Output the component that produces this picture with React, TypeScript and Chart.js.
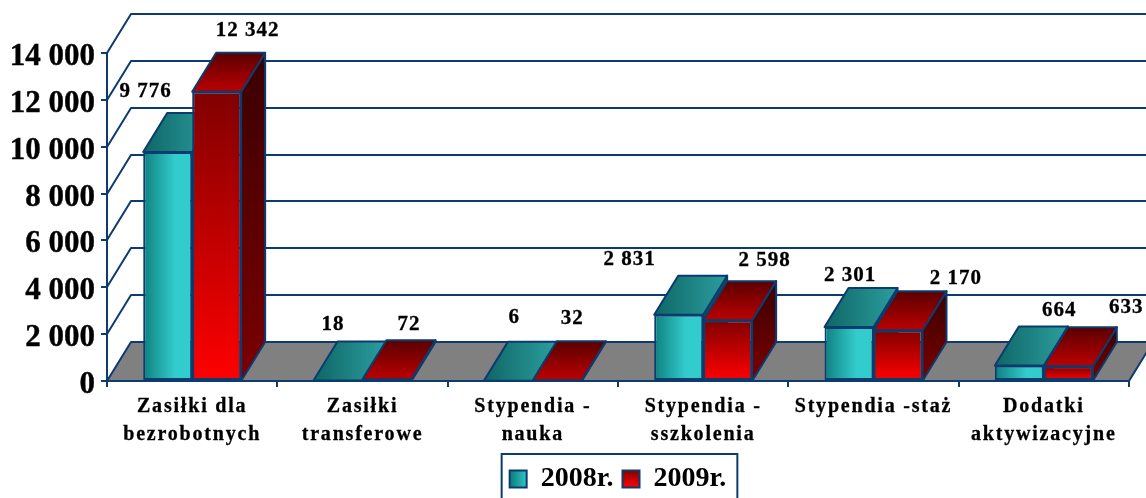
import React, { useEffect, useRef } from "react";
import { Chart, registerables } from "chart.js";

Chart.register(...registerables);

const categories: (string | string[])[] = [
  ["Zasiłki dla", "bezrobotnych"],
  ["Zasiłki", "transferowe"],
  ["Stypendia -", "nauka"],
  ["Stypendia -", "sszkolenia"],
  "Stypendia -staż",
  ["Dodatki", "aktywizacyjne"],
];
const values2008 = [9776, 18, 6, 2831, 2301, 664];
const values2009 = [12342, 72, 32, 2598, 2170, 633];
const yTicks = [0, 2000, 4000, 6000, 8000, 10000, 12000, 14000];
const seriesNames = ["2008r.", "2009r."];

// hand-placed data label offsets, relative to the top centre of each bar's front face
const labelOffsets2008 = [[-22, -60], [-5, -56], [6, -63], [-49, -55], [1, -52], [40, -55]];
const labelOffsets2009 = [[31, -61], [22, -55], [15, -62], [37, -60], [58, -52], [58, -59]];

const NAVY = "#0B3B6F";
const DEPTH_X = 24;
const DEPTH_Y = -39;
const SERIF = "'Liberation Serif', 'Times New Roman', serif";

const fmt = (v: number) => String(v).replace(/\B(?=(\d{3})+$)/g, " ");

function linear(ctx: CanvasRenderingContext2D, x0: number, y0: number, x1: number, y1: number, stops: [number, string][]) {
  const g = ctx.createLinearGradient(x0, y0, x1, y1);
  stops.forEach(([o, c]) => g.addColorStop(o, c));
  return g;
}

function poly(ctx: CanvasRenderingContext2D, pts: number[][], fill: any) {
  ctx.beginPath();
  pts.forEach(([x, y], i) => (i ? ctx.lineTo(x, y) : ctx.moveTo(x, y)));
  ctx.closePath();
  ctx.fillStyle = fill;
  ctx.fill();
  ctx.stroke();
}

const scene3d = {
  id: "scene3d",
  beforeDraw(chart: any) {
    const { ctx, width, height, chartArea, scales } = chart;
    ctx.save();
    ctx.fillStyle = "#ffffff";
    ctx.fillRect(0, 0, width, height);
    ctx.restore();
    // the value labels sit a little below their ticks in the reference
    if (!scales.y.$shifted) {
      scales.y.getLabelItems(chartArea).forEach((it: any) => {
        it.options.translation = [it.options.translation[0], it.options.translation[1] + 4];
      });
      scales.y.$shifted = true;
    }
  },
  beforeDatasetsDraw(chart: any) {
    const { ctx, chartArea, scales } = chart;
    const { left, right } = chartArea;
    ctx.save();
    ctx.strokeStyle = NAVY;
    ctx.lineWidth = 2;
    ctx.lineJoin = "round";
    yTicks.forEach((v) => {
      if (v === 0) return;
      const y = Math.round(scales.y.getPixelForValue(v));
      ctx.beginPath();
      ctx.moveTo(left, y);
      ctx.lineTo(left + DEPTH_X, y + DEPTH_Y);
      ctx.lineTo(right + DEPTH_X, y + DEPTH_Y);
      ctx.stroke();
    });
    const y0 = scales.y.getPixelForValue(0);
    poly(ctx, [[left, y0], [left + DEPTH_X, y0 + DEPTH_Y], [right + DEPTH_X, y0 + DEPTH_Y], [right, y0]], "#808080");

    // the series are painted left to right, so that each one overlaps the last
    [0, 1].forEach((ds) => {
      const isTeal = ds === 0;
      chart.getDatasetMeta(ds).data.forEach((bar: any) => {
        const { x, y, width } = bar.getProps(["x", "y", "width"], true);
        const l = x - width / 2;
        const r = x + width / 2;
        const b = y0;
        const sideFill = isTeal
          ? "#0E5A5A"
          : linear(ctx, 0, y + DEPTH_Y, 0, b, [[0, "#3A0000"], [1, "#7C0000"]]);
        poly(ctx, [[r, y], [r + DEPTH_X, y + DEPTH_Y], [r + DEPTH_X, b + DEPTH_Y], [r, b]], sideFill);
        const topFill = isTeal
          ? linear(ctx, l, 0, r + DEPTH_X, 0, [[0, "#0F6666"], [1, "#2C9E9E"]])
          : linear(ctx, 0, y + DEPTH_Y, 0, y, [[0, "#5A0000"], [1, "#BC0000"]]);
        poly(ctx, [[l, y], [l + DEPTH_X, y + DEPTH_Y], [r + DEPTH_X, y + DEPTH_Y], [r, y]], topFill);
        const frontFill = isTeal
          ? linear(ctx, l, 0, r, 0, [[0, "#0E8080"], [0.65, "#33CCCC"], [1, "#33CCCC"]])
          : linear(ctx, 0, y, 0, b, [[0, "#800000"], [1, "#FF0000"]]);
        bar.options = { ...bar.options, backgroundColor: frontFill };
      });
    });
    ctx.restore();
  },
  afterDatasetsDraw(chart: any) {
    const { ctx } = chart;
    ctx.save();
    ctx.font = `bold 21px ${SERIF}`;
    (ctx as any).letterSpacing = "1px";
    ctx.fillStyle = "#000000";
    ctx.strokeStyle = "#000000";
    ctx.lineWidth = 0.3;
    ctx.textAlign = "center";
    ctx.textBaseline = "middle";
    [labelOffsets2008, labelOffsets2009].forEach((offsets, ds) => {
      const meta = chart.getDatasetMeta(ds);
      meta.data.forEach((bar: any, i: number) => {
        const { x, y } = bar.getProps(["x", "y"], true);
        const v = chart.data.datasets[ds].data[i];
        ctx.fillText(fmt(v), x + offsets[i][0], y + offsets[i][1]);
        ctx.strokeText(fmt(v), x + offsets[i][0], y + offsets[i][1]);
      });
    });
    ctx.restore();
    // spacing for the category labels, which are drawn after this hook
    (ctx as any).letterSpacing = "1.8px";
  },
  afterDraw(chart: any) {
    const { ctx, legend } = chart;
    (ctx as any).letterSpacing = "0px";
    const boxes = legend.legendHitBoxes;
    const first = boxes[0];
    const last = boxes[boxes.length - 1];
    ctx.save();
    ctx.strokeStyle = NAVY;
    ctx.lineWidth = 2;
    ctx.strokeRect(first.left - 8, legend.top - 2, last.left + last.width + 11 - (first.left - 8), 60);
    ctx.restore();
  },
};

export default function App() {
  const ref = useRef<HTMLCanvasElement>(null);
  useEffect(() => {
    const canvas = ref.current!;
    const ctx2d = canvas.getContext("2d")!;
    const chart = new Chart(canvas, {
      type: "bar",
      plugins: [scene3d],
      data: {
        labels: categories as any,
        datasets: [
          { label: seriesNames[0], data: values2008, backgroundColor: "#33CCCC", borderColor: NAVY, borderWidth: 2, borderSkipped: false },
          { label: seriesNames[1], data: values2009, backgroundColor: "#FF0000", borderColor: NAVY, borderWidth: 2, borderSkipped: false },
        ],
      } as any,
      options: {
        responsive: false,
        animation: false,
        events: [],
        layout: { padding: { top: 53, right: 17, left: 0, bottom: -5 } },
        datasets: { bar: { categoryPercentage: 0.575, barPercentage: 1 } },
        plugins: {
          tooltip: { enabled: false },
          title: { display: false },
          legend: {
            display: true,
            position: "bottom",
            fullSize: false,
            labels: {
              boxWidth: 17,
              boxHeight: 17,
              padding: 9,
              color: "#000000",
              font: { family: SERIF, size: 28, weight: "bold" },
              generateLabels: (c: any) =>
                c.data.datasets.map((d: any, i: number) => ({
                  text: d.label,
                  datasetIndex: i,
                  fillStyle:
                    i === 0
                      ? linear(ctx2d, 511, 0, 528, 0, [[0, "#0E8080"], [1, "#33CCCC"]])
                      : linear(ctx2d, 0, 470, 0, 487, [[0, "#800000"], [1, "#FF0000"]]),
                  strokeStyle: NAVY,
                  lineWidth: 2,
                  fontColor: "#000000",
                })),
            },
          },
        },
        scales: {
          x: {
            afterFit: (s: any) => { s.height = 75; },
            grid: { drawOnChartArea: false, drawTicks: true, tickLength: 6, color: NAVY, lineWidth: 2 },
            border: { color: NAVY, width: 2 },
            ticks: {
              z: 1,
              autoSkip: false,
              maxRotation: 0,
              minRotation: 0,
              padding: 6,
              color: "#000000",
              textStrokeColor: "#000000",
              textStrokeWidth: 0.3,
              font: { family: SERIF, size: 20, weight: "bold", lineHeight: 1.4 },
            },
          },
          y: {
            min: 0,
            max: 14000,
            afterFit: (s: any) => { s.width = 107; },
            afterBuildTicks: (s: any) => { s.ticks = yTicks.map((value) => ({ value })); },
            grid: { drawOnChartArea: false, drawTicks: true, tickLength: 6, color: NAVY, lineWidth: 2 },
            border: { color: NAVY, width: 2 },
            ticks: {
              padding: 6,
              color: "#000000",
              textStrokeColor: "#000000",
              textStrokeWidth: 0.4,
              font: { family: SERIF, size: 31, weight: "bold" },
              callback: (v: any) => fmt(Number(v)),
            },
          },
        },
      } as any,
    });
    return () => chart.destroy();
  }, []);
  return (
    <div style={{ position: "fixed", left: 0, top: 0, width: 1146, height: 498, overflow: "hidden", background: "#fff" }}>
      <canvas ref={ref} width={1146} height={498} style={{ display: "block" }} />
    </div>
  );
}
